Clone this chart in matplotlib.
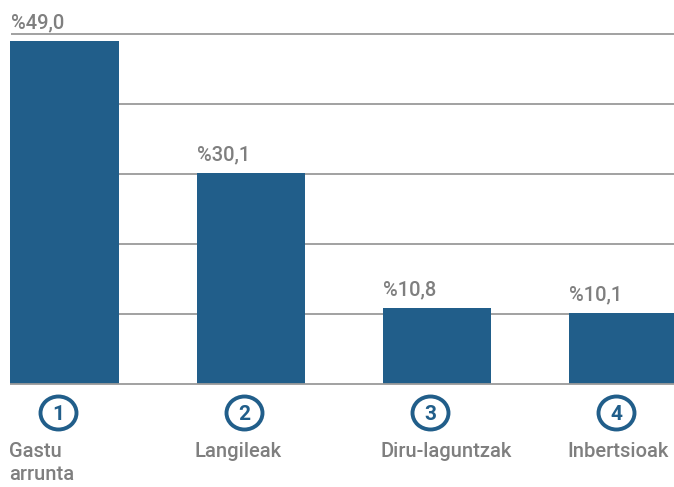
import matplotlib
matplotlib.use("Agg")
import matplotlib.pyplot as plt
from matplotlib.patches import Ellipse
from matplotlib.transforms import blended_transform_factory

categories = ["Gastu\narrunta", "Langileak", "Diru-laguntzak", "Inbertsioak"]
values = [49.0, 30.1, 10.8, 10.1]
value_labels = ["%49,0", "%30,1", "%10,8", "%10,1"]
numbers = ["1", "2", "3", "4"]
gridlines = [10, 20, 30, 40, 50]

BLUE = "#215E8A"
GRAY = "#7F7F7F"
GRID = "#9A9A9A"

plt.rcParams['font.family'] = ['Roboto', 'DejaVu Sans']

W, H = 674, 487
fig = plt.figure(figsize=(W / 100, H / 100), dpi=100)
ax = fig.add_axes([10 / W, (H - 384) / H, (W - 10) / W, 350 / H])

spacing_px = 186.0
first_center_px = 64.5
bw = 108 / spacing_px
x = list(range(len(values)))
ax.bar(x, values, width=bw, color=BLUE, zorder=3)
xmin = (10 - first_center_px) / spacing_px
xmax = (674 - first_center_px) / spacing_px
ax.set_xlim(xmin, xmax)
ax.set_ylim(0, 50)

ax.hlines(gridlines, x[0] - bw / 2 + 1 / spacing_px, xmax, color=GRID, lw=1.3, zorder=1,
          clip_on=False)
ax.hlines([0], xmin, xmax, color=GRID, lw=1.3, zorder=4, clip_on=False)

for s in ax.spines.values():
    s.set_visible(False)
ax.set_xticks([])
ax.set_yticks([])

upp = 1 / spacing_px  # data units per pixel
trans = blended_transform_factory(ax.transData, ax.transAxes)

for xi, v, lab, num, cat in zip(x, values, value_labels, numbers, categories):
    left = xi - bw / 2
    ax.annotate(lab, (left, v), xytext=(0.5 * 0.72, 13 * 0.72), textcoords="offset points",
                ha="left", va="baseline", fontsize=14.5, fontweight="medium",
                color=GRAY, annotation_clip=False)
    cx = xi - 6 * upp
    cy = -(413 - 384) / 350
    e = Ellipse((cx, cy), 36 * upp, 33 / 350, transform=trans, fill=False,
                edgecolor=BLUE, lw=2.8, clip_on=False)
    ax.add_patch(e)
    ax.text(cx, cy, num, transform=trans, ha="center", va="center_baseline",
            fontsize=15, fontweight="bold", color=BLUE)
    ax.text(left - 1.5 * upp, -(442 - 384) / 350, cat, transform=trans, ha="left", va="top",
            fontsize=14.5, fontweight="medium", color=GRAY, linespacing=1.25)

fig.savefig("out.png", dpi=100)
